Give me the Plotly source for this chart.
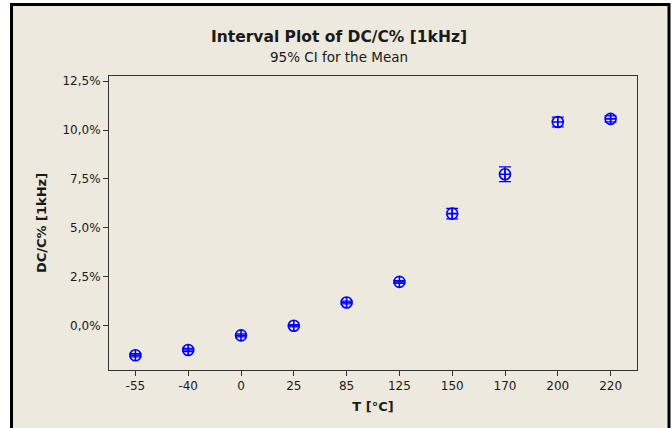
import plotly.graph_objects as go

# Interval plot: mean change of capacitance at 1 kHz vs temperature, with 95% CI
temps = ["-55", "-40", "0", "25", "85", "125", "150", "170", "200", "220"]
mean_pct = [-1.51, -1.24, -0.49, 0.0, 1.19, 2.24, 5.73, 7.74, 10.41, 10.57]
ci_pct = [0.08, 0.08, 0.08, 0.06, 0.07, 0.07, 0.27, 0.38, 0.25, 0.15]

y_ticks = [0.0, 2.5, 5.0, 7.5, 10.0, 12.5]
y_ticktext = [f"{v:.1f}%".replace(".", ",") for v in y_ticks]

W, H = 672, 428
L, R, T, B = 109, 637, 76, 370  # plot area in pixels

def px_x(p):
    return (p - L) / (R - L)

def px_y(p):
    return (B - p) / (B - T)

blue = "#0000FF"
font = "DejaVu Sans, Verdana, sans-serif"
ink = "#1a1a1a"

fig = go.Figure(
    go.Scatter(
        x=temps,
        y=mean_pct,
        mode="markers",
        marker=dict(symbol="circle-cross-open", size=11, color=blue,
                    line=dict(width=1.6, color=blue)),
        error_y=dict(type="data", array=ci_pct, color=blue, thickness=1.3, width=6),
        showlegend=False,
        hoverinfo="x+y",
    )
)

fig.update_layout(
    width=W,
    height=H,
    margin=dict(l=L, r=W - R, t=T, b=H - B, pad=0),
    paper_bgcolor="white",
    plot_bgcolor="white",
    font=dict(family=font, size=12, color=ink),
    title=dict(
        text="<b>Interval Plot of DC/C% [1kHz]</b><br><span style='font-size:13.5px'>95% CI for the Mean</span>",
        x=339 / W,
        xanchor="center",
        y=1 - 42 / H,
        yanchor="top",
        font=dict(family=font, size=15.5, color=ink),
    ),
    xaxis=dict(
        type="category",
        range=[-0.5, len(temps) - 0.5],
        showgrid=False,
        zeroline=False,
        showline=True,
        linecolor="#333333",
        linewidth=1,
        mirror=True,
        ticks="outside",
        ticklen=5,
        tickcolor="#333333",
        tickfont=dict(size=12, color=ink),
        title=dict(text="<b>T [°C]</b>", font=dict(size=13, color=ink), standoff=9),
    ),
    yaxis=dict(
        range=[-2.26, 12.76],
        tickvals=y_ticks,
        ticktext=y_ticktext,
        showgrid=False,
        zeroline=False,
        showline=True,
        linecolor="#333333",
        linewidth=1,
        mirror=True,
        ticks="outside",
        ticklen=5,
        tickcolor="#333333",
        tickfont=dict(size=12, color=ink),
        title=dict(text="<b>DC/C% [1kHz]</b>", font=dict(size=13, color=ink), standoff=12),
    ),
    shapes=[
        dict(
            type="rect",
            xref="paper",
            yref="paper",
            x0=px_x(11.5),
            x1=px_x(669),
            y0=px_y(440),
            y1=px_y(4.5),
            line=dict(color="black", width=3),
            fillcolor="#EDE9DF",
            layer="below",
        )
    ],
)

fig.write_html("out.html")
